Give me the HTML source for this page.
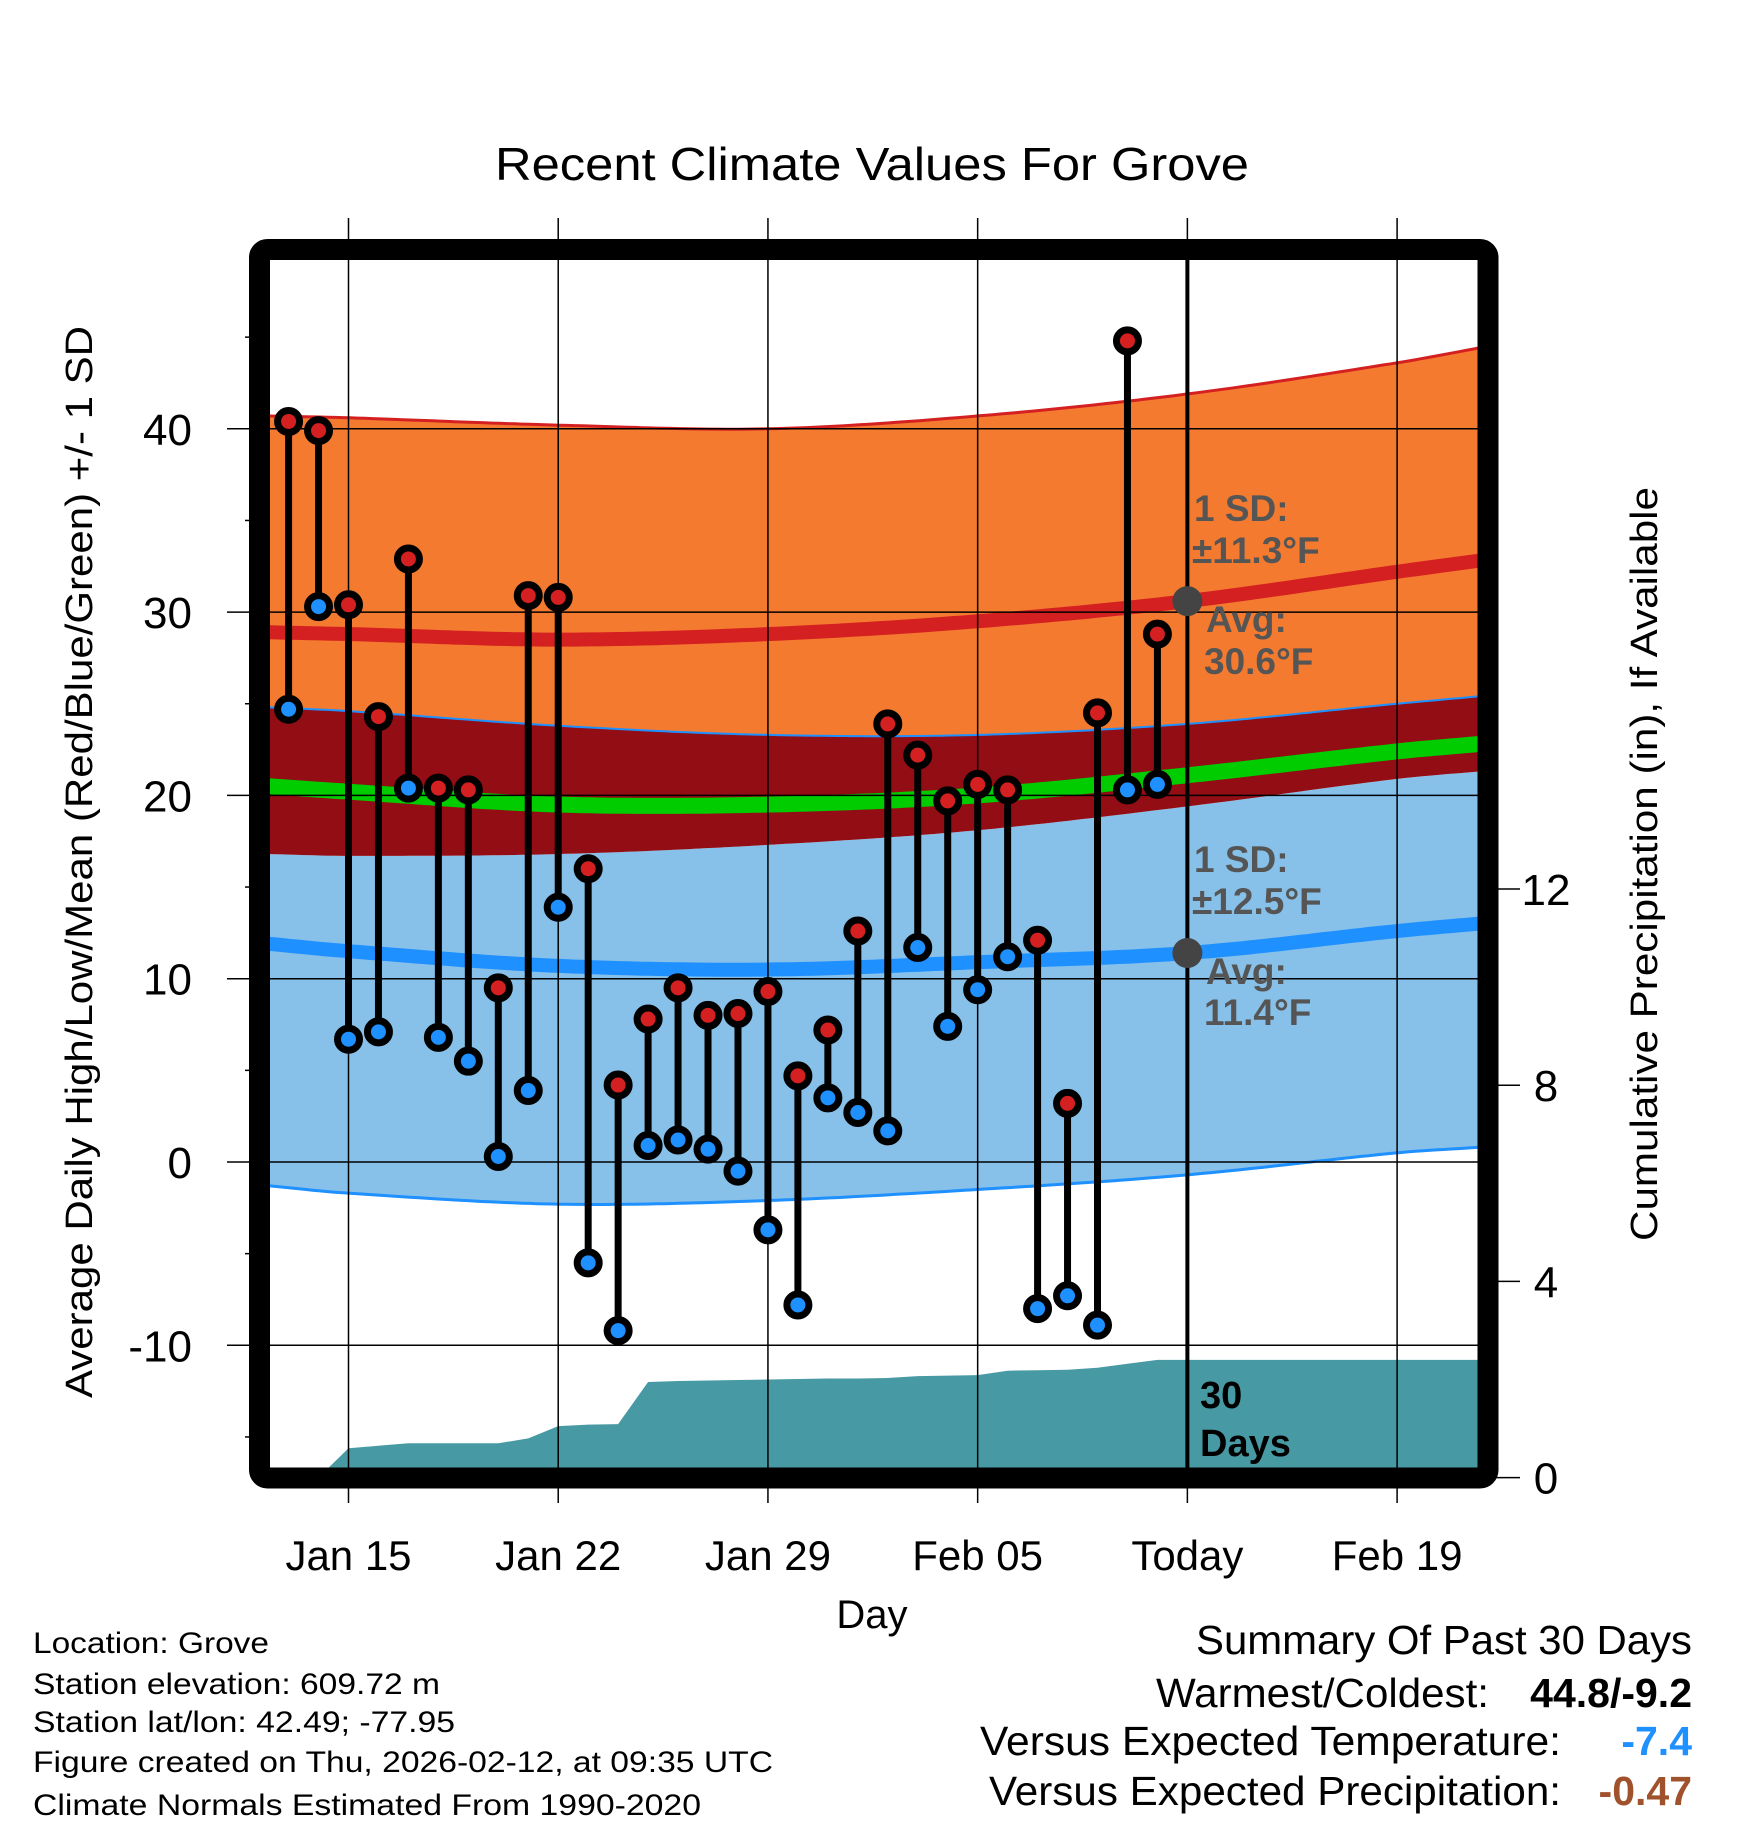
<!DOCTYPE html>
<html><head><meta charset="utf-8"><style>
html,body{margin:0;padding:0;background:#fff;}
svg{display:block;font-family:"Liberation Sans",sans-serif;}
</style></head><body>
<svg id="chart" width="1748" height="1828" viewBox="0 0 1748 1828" xmlns="http://www.w3.org/2000/svg">
<defs><clipPath id="plotclip"><rect x="270" y="260" width="1208" height="1208"/></clipPath></defs>
<text x="872" y="180" font-size="46" text-anchor="middle" textLength="754" lengthAdjust="spacingAndGlyphs">Recent Climate Values For Grove</text>
<g id="plot" clip-path="url(#plotclip)"></g>
<g id="overlay"></g>
<rect x="259.5" y="249.5" width="1228.5" height="1228.5" rx="8" fill="none" stroke="#000" stroke-width="21"/>
<text transform="translate(92,862) rotate(-90)" font-size="38" text-anchor="middle" textLength="1072" lengthAdjust="spacingAndGlyphs">Average Daily High/Low/Mean (Red/Blue/Green) +/- 1 SD</text>
<text transform="translate(1657,864) rotate(-90)" font-size="38" text-anchor="middle" textLength="754" lengthAdjust="spacingAndGlyphs">Cumulative Precipitation (in), If Available</text>
<text x="872" y="1628" font-size="40" text-anchor="middle">Day</text>
<g font-size="30">
<text x="33" y="1653" textLength="236" lengthAdjust="spacingAndGlyphs">Location: Grove</text>
<text x="33" y="1694" textLength="407" lengthAdjust="spacingAndGlyphs">Station elevation: 609.72 m</text>
<text x="33" y="1732" textLength="422" lengthAdjust="spacingAndGlyphs">Station lat/lon: 42.49; -77.95</text>
<text x="33" y="1772" textLength="740" lengthAdjust="spacingAndGlyphs">Figure created on Thu, 2026-02-12, at 09:35 UTC</text>
<text x="33" y="1815" textLength="668" lengthAdjust="spacingAndGlyphs">Climate Normals Estimated From 1990-2020</text>
</g>
<g font-size="41">
<text x="1692" y="1654" text-anchor="end" textLength="496" lengthAdjust="spacingAndGlyphs">Summary Of Past 30 Days</text>
<text x="1489" y="1707" text-anchor="end" textLength="333" lengthAdjust="spacingAndGlyphs">Warmest/Coldest:</text>
<text x="1692" y="1707" text-anchor="end" font-weight="bold">44.8/-9.2</text>
<text x="1561" y="1755" text-anchor="end" textLength="581" lengthAdjust="spacingAndGlyphs">Versus Expected Temperature:</text>
<text x="1692" y="1755" text-anchor="end" font-weight="bold" fill="#1e90ff">-7.4</text>
<text x="1561" y="1805" text-anchor="end" textLength="572" lengthAdjust="spacingAndGlyphs">Versus Expected Precipitation:</text>
<text x="1692" y="1805" text-anchor="end" font-weight="bold" fill="#a0522d">-0.47</text>
</g>
</svg>
<script>
const dayLabels = ["Jan 15","Jan 22","Jan 29","Feb 05","Today","Feb 19"];
const dayTicks = [0,7,14,21,28,35];
const tempTicks = [40,30,20,10,0,-10];
const precipTicks = [0,4,8,12];
const highs = [40.4,39.9,30.4,24.3,32.9,20.4,20.3,9.5,30.9,30.8,16.0,4.2,7.8,9.5,8.0,8.1,9.3,4.7,7.2,12.6,23.9,22.2,19.7,20.6,20.3,12.1,3.2,24.5,44.8,28.8];
const lows = [24.7,30.3,6.7,7.1,20.4,6.8,5.5,0.3,3.9,13.9,-5.5,-9.2,0.9,1.2,0.7,-0.5,-3.7,-7.8,3.5,2.7,1.7,11.7,7.4,9.4,11.2,-8.0,-7.3,-8.9,20.3,20.6];
const precip = [0,0,0.6,0.65,0.7,0.7,0.7,0.7,0.8,1.05,1.08,1.09,1.95,1.97,1.98,1.99,2.0,2.01,2.02,2.02,2.03,2.07,2.08,2.09,2.18,2.19,2.2,2.24,2.32,2.4];
const normDays = [-2.65,0,7,14,21,28,35,37.7];
const highPlus = [40.7,40.6,40.2,40.0,40.7,41.9,43.6,44.4];
const highMean = [28.9,28.8,28.5,28.8,29.5,30.6,32.2,32.8];
const highMinus = [24.8,24.6,23.8,23.3,23.3,23.9,25.0,25.4];
const avgMean = [20.5,20.2,19.5,19.5,20.0,21.1,22.4,22.8];
const lowPlus = [16.8,16.7,16.8,17.3,18.1,19.4,20.9,21.3];
const lowMean = [11.9,11.5,10.7,10.5,10.9,11.4,12.6,13.0];
const lowMinus = [-1.3,-1.7,-2.3,-2.1,-1.5,-0.7,0.5,0.8];
const firstDay = -2;

const NS="http://www.w3.org/2000/svg";
const xs = d => 348.5 + 29.96*d;
const ys = v => 1162 - 18.33*v;
const yp = p => 1477.6 - 49.05*p;
function mk(tag, attrs, parent){const e=document.createElementNS(NS,tag);for(const k in attrs)e.setAttribute(k,attrs[k]);parent.appendChild(e);return e;}
function interp(arr,d){
  let i=0;while(i<normDays.length-2&&d>normDays[i+1])i++;
  const t=(d-normDays[i])/(normDays[i+1]-normDays[i]);
  const h=normDays[i+1]-normDays[i];
  const slope=j=>{const a=Math.max(j-1,0),b=Math.min(j+1,arr.length-1);return (arr[b]-arr[a])/(normDays[b]-normDays[a]);};
  const m1=slope(i)*h,m2=slope(i+1)*h,p1=arr[i],p2=arr[i+1];
  const t2=t*t,t3=t2*t;
  return (2*t3-3*t2+1)*p1+(t3-2*t2+t)*m1+(-2*t3+3*t2)*p2+(t3-t2)*m2;
}
function samples(arr){const pts=[];for(let d=-2.7;d<=37.8;d+=0.25)pts.push([xs(d),ys(interp(arr,d))]);return pts;}
function line(pts){return pts.map((p,i)=>(i?'L':'M')+p[0].toFixed(1)+','+p[1].toFixed(1)).join('');}
function band(a,b){const p=samples(a),q=samples(b).reverse();return line(p)+line(q).replace('M','L')+'Z';}
const plot=document.getElementById('plot');
const ov=document.getElementById('overlay');
let e;
e=mk('path',{d:band(highPlus,highMinus),fill:'#f47a30'},plot);


e=mk('path',{d:band(lowPlus,lowMinus),fill:'#87c0e8'},plot);


e=mk('path',{d:band(highMinus,lowPlus),fill:'#920d14'},plot);


e=mk('path',{d:line(samples(highPlus)),fill:'none',stroke:'#d42020','stroke-width':3},plot);


e=mk('path',{d:line(samples(highMinus)),fill:'none',stroke:'#1e90ff','stroke-width':2},plot);


e=mk('path',{d:line(samples(lowMinus)),fill:'none',stroke:'#1e90ff','stroke-width':3},plot);


e=mk('path',{d:line(samples(avgMean)),fill:'none',stroke:'#00cc00','stroke-width':16},plot);


e=mk('path',{d:line(samples(highMean)),fill:'none',stroke:'#d42020','stroke-width':14},plot);


e=mk('path',{d:line(samples(lowMean)),fill:'none',stroke:'#1e90ff','stroke-width':14},plot);


let pd='M'+xs(firstDay-0.7)+','+yp(0);
precip.forEach((p,i)=>{pd+='L'+xs(firstDay+i).toFixed(1)+','+yp(p).toFixed(1);});
pd+='L'+xs(37.8)+','+yp(precip[precip.length-1])+'L'+xs(37.8)+','+yp(0)+'Z';
e=mk('path',{d:pd,fill:'#479aa3'},plot);


tempTicks.forEach(v=>{
  e=mk('line',{x1:227,x2:1478,y1:ys(v),y2:ys(v),stroke:'#000','stroke-width':1.5},ov);
  
  
  e=mk('text',{x:192,y:ys(v)+16,'font-size':44,'text-anchor':'end'},ov);
  e.textContent=v;
  
  
});
for(let v=-15;v<=45;v+=10){
  e=mk('line',{x1:245,x2:253,y1:ys(v),y2:ys(v),stroke:'#000','stroke-width':1.5},ov);
  
  
}
dayTicks.forEach((d,i)=>{
  e=mk('line',{x1:xs(d),x2:xs(d),y1:218,y2:1503,stroke:'#000','stroke-width':1.5},ov);
  
  
  e=mk('text',{x:xs(d),y:1570,'font-size':42,'text-anchor':'middle'},ov);
  e.textContent=dayLabels[i];
  
  
});
precipTicks.forEach(p=>{
  e=mk('line',{x1:1488,x2:1520,y1:yp(p),y2:yp(p),stroke:'#000','stroke-width':1.5},ov);
  
  
  e=mk('text',{x:1546,y:yp(p)+16,'font-size':44,'text-anchor':'middle'},ov);
  e.textContent=p;
  
  
});
e=mk('line',{x1:xs(28),x2:xs(28),y1:260,y2:1468,stroke:'#000','stroke-width':4},ov);


function txt(x,y,s,fs,fill){const t=mk('text',{x:x,y:y,'font-size':fs,'font-weight':'bold',fill:fill},ov);t.textContent=s;return t;}
e=txt(1194,521,'1 SD:',37,'#555');


e=txt(1192,563,'±11.3°F',37,'#555');


e=txt(1206,632,'Avg:',37,'#555');


e=txt(1204,674,'30.6°F',37,'#555');


e=txt(1194,872,'1 SD:',37,'#555');


e=txt(1192,914,'±12.5°F',37,'#555');


e=txt(1206,984,'Avg:',37,'#555');


e=txt(1204,1025,'11.4°F',37,'#555');


e=mk('circle',{cx:xs(28),cy:ys(30.6),r:15,fill:'#444'},ov);


e=mk('circle',{cx:xs(28),cy:ys(11.4),r:15,fill:'#444'},ov);


e=txt(1200,1408,'30',38,'#000');


e=txt(1200,1456,'Days',38,'#000');


highs.forEach((h,i)=>{
  const x=xs(firstDay+i);
  e=mk('line',{x1:x,x2:x,y1:ys(h),y2:ys(lows[i]),stroke:'#000','stroke-width':7},ov);
  
  
});
highs.forEach((h,i)=>{
  const x=xs(firstDay+i);
  e=mk('circle',{cx:x,cy:ys(lows[i]),r:11,fill:'#1e90ff',stroke:'#000','stroke-width':7},ov);
  
  
  e=mk('circle',{cx:x,cy:ys(h),r:11,fill:'#d42020',stroke:'#000','stroke-width':7},ov);
  
  
});
</script>
</body></html>
